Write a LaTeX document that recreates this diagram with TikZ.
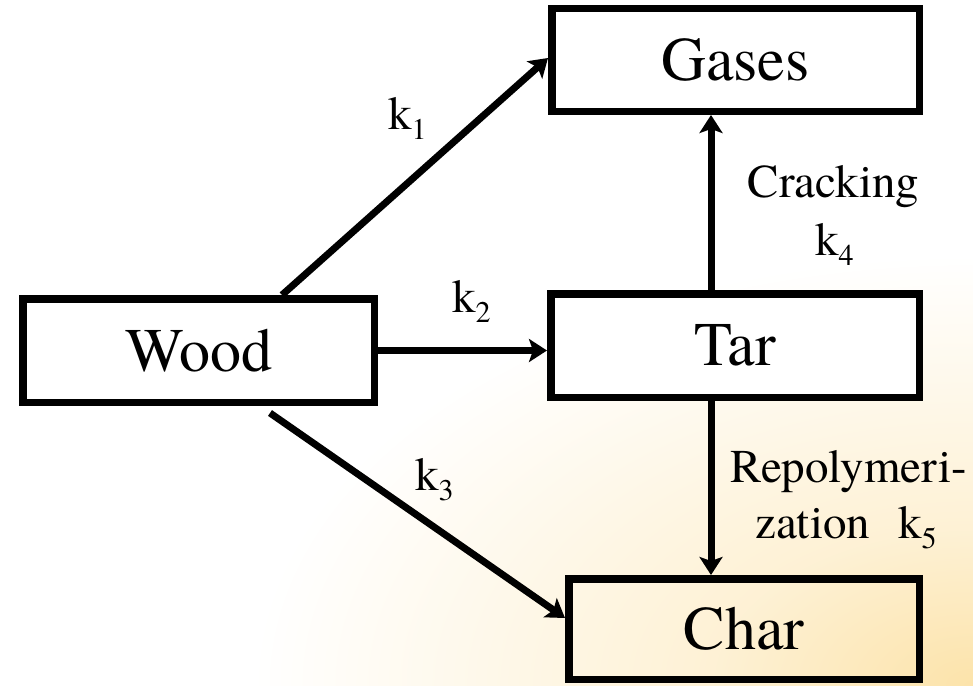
\documentclass[tikz,border=0pt]{standalone}
\usepackage{fontspec}
\setmainfont{texgyretermes-regular.otf}
\usetikzlibrary{arrows.meta}

\definecolor{glowc}{HTML}{FCE3AA}
\pgfdeclareradialshading{warmglow}{\pgfpoint{0bp}{0bp}}{color(0bp)=(glowc); color(9bp)=(glowc!50!white); color(25bp)=(white); color(50bp)=(white)}

% rate constant with a lowered index
\newcommand\kidx[1]{k\raisebox{-10.5pt}{\fontsize{30}{30}\selectfont #1}}

\begin{document}
\begin{tikzpicture}[x=1pt,y=-1pt,
  box/.style={draw=black, line width=7.5pt, fill=white, inner sep=0pt,
              font=\fontsize{62}{70}\selectfont},
  flow/.style={line width=7pt, -{Stealth[length=18pt,width=23pt,inset=4pt]}},
  lbl/.style={anchor=base west, inner sep=0pt, font=\fontsize{47}{54}\selectfont},
  lblc/.style={anchor=base, inner sep=0pt, font=\fontsize{47}{54}\selectfont}]

\useasboundingbox (0,0) rectangle (973,685);

% warm glow in the lower right corner
\begin{scope}
  \clip (0,0) rectangle (973,685);
  \shade[shading=warmglow] (973,685) ellipse [x radius=720, y radius=430];
\end{scope}

% species
\node[box, minimum width=367.5pt, minimum height=102.5pt] (gases) at (735.5,60) {Gases};
\node[box, minimum width=351.5pt, minimum height=103.5pt] (wood) at (198.5,350.5) {Wood};
\node[box, minimum width=368.5pt, minimum height=103.5pt] (tar) at (735,345.5) {Tar};
\node[box, fill=none, minimum width=350.5pt, minimum height=100.5pt] (char) at (744,629) {Char};

% reactions
\draw[flow] ([xshift=83.5pt]wood.north) -- ([yshift=2pt]gases.west);
\draw[flow] (wood.east) -- (wood.east -| tar.west);
\draw[flow] ([xshift=71.5pt,yshift=-7pt]wood.south) -- ([yshift=11pt]char.west);
\draw[flow] ([xshift=-24pt]tar.north) -- ([xshift=-24pt]tar.north |- gases.south);
\draw[flow] ([xshift=-24pt]tar.south) -- ([xshift=-24pt]tar.south |- char.north);

% rate labels
\node[lbl] (k1) at (388,129) {\kidx{1}};
\node[lbl] (k2) at (452,312) {\kidx{2}};
\node[lbl] (k3) at (415,490) {\kidx{3}};
\node[lblc] (crack) at (833.5,197) {Cracking};
\node[lbl] (k4) at (815,255) {\kidx{4}};
\node[lblc] (repo) at (849,482) {Repolymeri-};
\node[lbl] (zat) at (755,538) {zation\hspace{28pt}\kidx{5}};
\end{tikzpicture}
\end{document}
